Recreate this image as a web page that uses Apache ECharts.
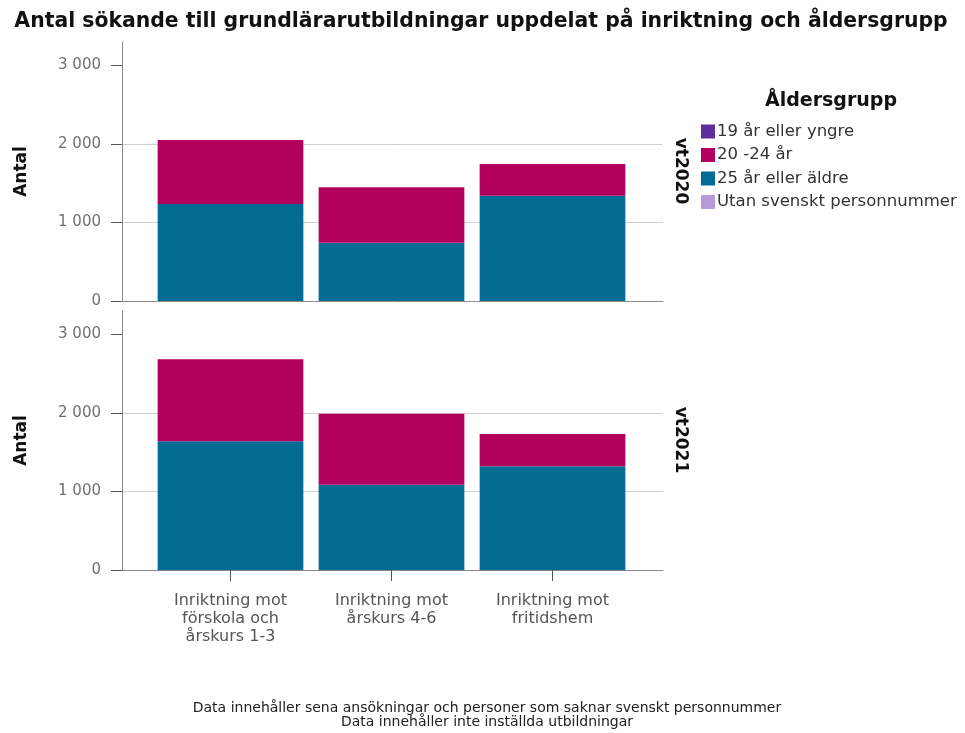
<!DOCTYPE html>
<html><head><meta charset="utf-8">
<script src="https://cdn.jsdelivr.net/npm/echarts@6/dist/echarts.min.js"></script>
<style>html,body{margin:0;padding:0;background:#fff}#c{width:965px;height:733px}</style>
</head><body><div id="c"></div>
<script>
const categories = ["Inriktning mot\nförskola och\nårskurs 1-3", "Inriktning mot\nårskurs 4-6", "Inriktning mot\nfritidshem"];
const groups = ["19 år eller yngre", "20 -24 år", "25 år eller äldre", "Utan svenskt personnummer"];
const panels = ["vt2020", "vt2021"];
// values per panel, per category
const vt2020_19 = [0, 0, 0];
const vt2020_20_24 = [815, 705, 404];
const vt2020_25 = [1235, 743, 1341];
const vt2020_utan = [0, 0, 0];
const vt2021_19 = [0, 0, 0];
const vt2021_20_24 = [1044, 907, 409];
const vt2021_25 = [1642, 1085, 1323];
const vt2021_utan = [0, 0, 0];
const yTicks = [0, 1000, 2000, 3000];

const colors = {"19 år eller yngre": "#5e2f9c", "20 -24 år": "#b3005f", "25 år eller äldre": "#036c95", "Utan svenskt personnummer": "#b79bd9"};
const panelData = [
  {"19 år eller yngre": vt2020_19, "20 -24 år": vt2020_20_24, "25 år eller äldre": vt2020_25, "Utan svenskt personnummer": vt2020_utan},
  {"19 år eller yngre": vt2021_19, "20 -24 år": vt2021_20_24, "25 år eller äldre": vt2021_25, "Utan svenskt personnummer": vt2021_utan}
];
const FONT = "DejaVu Sans, sans-serif";
const fmt = v => String(v).replace(/\B(?=(\d{3})+(?!\d))/g, ' ');
const YMAX = 3300;

// frame grids (0,1) and bar grids (2,3)
const panelTop = [42, 311], panelH = 259;
const grids = [
  {left: 122, right: 302, top: panelTop[0], height: panelH},
  {left: 122, right: 302, top: panelTop[1], height: panelH},
  {left: 150, right: 332, top: panelTop[0], height: panelH},
  {left: 150, right: 332, top: panelTop[1], height: panelH}
];
const xAxes = [
  {type: 'value', gridIndex: 0, min: 0, max: 1, splitLine: {show: false}, axisTick: {show: false}, axisLabel: {show: false},
    axisLine: {show: true, onZero: false, lineStyle: {color: '#8a8a8a'}}},
  {type: 'value', gridIndex: 1, min: 0, max: 1, splitLine: {show: false}, axisTick: {show: false}, axisLabel: {show: false},
    axisLine: {show: true, onZero: false, lineStyle: {color: '#8a8a8a'}}},
  {type: 'category', gridIndex: 2, data: categories, axisLine: {show: false}, axisTick: {show: false}, axisLabel: {show: false}},
  {type: 'category', gridIndex: 3, data: categories, axisLine: {show: false},
    axisTick: {show: true, alignWithLabel: true, length: 11, lineStyle: {color: '#555'}},
    axisLabel: {color: '#555', fontFamily: FONT, fontSize: 16, lineHeight: 18, margin: 22}}
];
const yAxes = [0, 1].map(gi => ({
  type: 'value', gridIndex: gi, min: 0, max: YMAX,
  name: 'Antal', nameLocation: 'middle', nameGap: 92, nameRotate: 90,
  nameTextStyle: {fontFamily: FONT, fontSize: 17, fontWeight: 'bold', color: '#111'},
  axisLine: {show: true, onZero: false, lineStyle: {color: '#8a8a8a'}},
  axisTick: {show: true, customValues: yTicks, length: 11, lineStyle: {color: '#555'}},
  axisLabel: {customValues: yTicks, formatter: v => fmt(v), color: '#707070', fontFamily: FONT, fontSize: 15, margin: 21},
  splitLine: {show: true, showMinLine: false, showMaxLine: false, lineStyle: {color: '#d0d0d0'}}
})).concat([2, 3].map(gi => ({
  type: 'value', gridIndex: gi, min: 0, max: YMAX, show: false, splitLine: {show: false}
})));

const stackOrder = ["Utan svenskt personnummer", "25 år eller äldre", "20 -24 år", "19 år eller yngre"];
const series = [];
panels.forEach((p, pi) => {
  stackOrder.forEach(name => {
    series.push({
      type: 'bar', name: name, stack: 'p' + pi, xAxisIndex: pi + 2, yAxisIndex: pi + 2,
      barCategoryGap: '9.5%', itemStyle: {color: colors[name]},
      data: panelData[pi][name]
    });
  });
});

const chart = echarts.init(document.getElementById('c'), null, {renderer: 'canvas'});
chart.setOption({
  animation: false,
  backgroundColor: '#fff',
  title: [
    {text: 'Antal sökande till grundlärarutbildningar uppdelat på inriktning och åldersgrupp', left: 476, top: 7, textAlign: 'center',
      textStyle: {fontFamily: FONT, fontSize: 20.4, fontWeight: 'bold', color: '#111'}},
    {text: 'Åldersgrupp', left: 826, top: 87, textAlign: 'center',
      textStyle: {fontFamily: FONT, fontSize: 19, fontWeight: 'bold', color: '#111'}},
    {text: 'Data innehåller sena ansökningar och personer som saknar svenskt personnummer\nData innehåller inte inställda utbildningar',
      left: 482, top: 696, textAlign: 'center',
      textStyle: {fontFamily: FONT, fontSize: 14, fontWeight: 'normal', color: '#222', lineHeight: 14}}
  ],
  legend: {
    data: groups, orient: 'vertical', left: 696, top: 118, itemWidth: 14, itemHeight: 14, itemGap: 6.5,
    icon: 'rect', selectedMode: false,
    textStyle: {fontFamily: FONT, fontSize: 16.5, color: '#333', padding: [0, 0, 0, -3]}
  },
  grid: grids,
  xAxis: xAxes,
  yAxis: yAxes,
  series: series,
  graphic: panels.map((p, pi) => ({
    type: 'text', x: 680, y: pi === 0 ? 171 : 440, rotation: -Math.PI / 2,
    style: {text: p, fontFamily: FONT, fontSize: 17, fontWeight: 'bold', fill: '#111', align: 'center', verticalAlign: 'middle'}
  }))
});
</script></body></html>
